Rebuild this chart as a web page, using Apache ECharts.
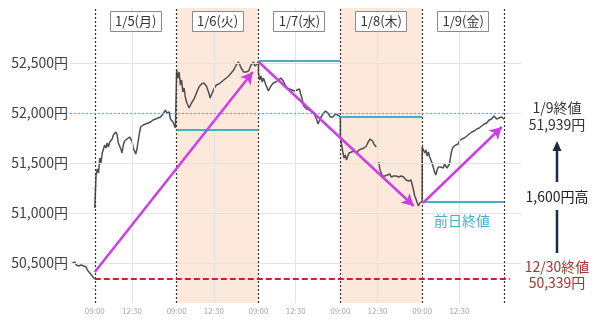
<!DOCTYPE html>
<html><head><meta charset="utf-8">
<script src="https://cdn.jsdelivr.net/npm/echarts@6/dist/echarts.min.js"></script>
<style>html,body{margin:0;padding:0;background:#fff}#c{width:600px;height:324px}</style>
</head><body><div id="c"></div>
<script>
// ---- data ----
const dayLabels = ['1/5(月)', '1/6(火)', '1/7(水)', '1/8(木)', '1/9(金)'];
const sessionTickMinutes = [0, 150];          // minutes after 09:00 in trading time
const sessionTickLabels = ['09:00', '12:30'];
const yTickValues = [50500, 51000, 51500, 52000, 52500];
const yMinorValues = [50250, 50750, 51250, 51750, 52250, 52750];

// tail of 12/30 session (5-minute steps), then close
const prevTail = [50500,50480,50510,50480,50490,50470,50490,50480,50490,50470,50450,50460,50430,50420,50400,50390,50370,50360];
const baseClose = 50339;   // 12/30 close
const lastClose = 51939;   // 1/9 close

// 5-minute samples of each session (09:00-11:30, 12:30-15:30 → 330 trading minutes)
const day5 = [51050,51380,51440,51400,51550,51500,51600,51620,51680,51650,51700,51660,51710,51690,51740,51780,51760,51810,51780,51700,51680,51640,51600,51680,51720,51700,51740,51720,51760,51740,51720,51650,51630,51590,51640,51720,51800,51860,51850,51880,51860,51890,51880,51900,51880,51910,51900,51930,51910,51940,51920,51950,51940,51960,51950,51990,52010,52030,52000,51980,52010,51940,51930,51910,51880,51850,51832];
const day6 = [52430,52350,52410,52280,52330,52210,52250,52160,52110,52080,52050,52070,52100,52090,52140,52170,52200,52230,52260,52280,52290,52310,52300,52290,52270,52250,52200,52150,52170,52210,52240,52260,52280,52270,52290,52280,52310,52300,52330,52320,52350,52340,52370,52380,52400,52410,52430,52450,52480,52500,52510,52480,52450,52430,52410,52400,52410,52400,52420,52450,52480,52500,52510,52470,52460,52490,52518];
const day7 = [52400,52330,52370,52310,52350,52330,52280,52250,52220,52240,52270,52290,52300,52280,52310,52300,52330,52320,52350,52360,52320,52290,52270,52250,52260,52240,52250,52230,52240,52220,52210,52230,52220,52240,52190,52150,52090,52060,52070,52040,52050,52030,52040,52010,52020,51990,51970,51930,51890,51900,51950,51970,51990,52000,52020,52030,52000,51980,51960,51950,51960,51980,51990,51970,51980,51970,51962];
const day8 = [51780,51680,51610,51550,51580,51530,51570,51600,51580,51610,51590,51620,51630,51600,51610,51630,51620,51640,51630,51650,51640,51670,51700,51690,51740,51760,51720,51690,51710,51660,null,51510,51430,51400,51370,51390,51370,51360,51380,51370,51390,51360,51350,51370,51360,51370,51350,51360,51350,51370,51380,51360,51340,51330,51340,51320,51310,51330,51320,51230,51170,51140,51100,51070,51100,51120,51117];
const day9 = [51660,51680,51600,51630,51570,51610,51560,51530,51500,51480,51410,51380,51430,51460,51480,51460,51470,51450,51490,51480,51450,51430,51490,51570,51630,51660,51650,51680,51700,51690,51720,51710,51740,51730,51750,51740,51770,51760,51790,51780,51810,51800,51820,51810,51840,51830,51850,51840,51870,51880,51890,51910,51900,51920,51930,51920,51940,51950,51970,51980,51940,51920,51950,51930,51960,51940,51939];

const prevDayCloses = [51832, 52518, 51962, 51117]; // shown on 1/6 .. 1/9
const refLevel = 52000;
const shadedDays = [1, 3];
// trend arrows: [startMinute, startValue, endMinute, endValue]
const trendArrows = [[0, 50410, 637, 52410], [661, 52510, 1286, 51070], [1323, 51100, 1641, 51860]];

// ---- build ----
const FONT = '"Noto Sans CJK JP","Noto Sans",sans-serif';
const DAY = 330, STEP = 5, XMIN = -100, XMAX = 1720, YMIN = 50100, YMAX = 53050;
const days = [day5, day6, day7, day8, day9];

const priceData = [];
prevTail.forEach((v, i) => priceData.push([-90 + i * STEP, v]));
priceData.push([-1, baseClose]);
priceData.push([-0.5, '-']);
days.forEach((arr, d) => arr.forEach((v, i) => priceData.push([d * DAY + i * STEP, v === null ? '-' : v])));

const xLabelValues = [];
for (let d = 0; d < days.length; d++) sessionTickMinutes.forEach(m => xLabelValues.push(d * DAY + m));

const seg = (x1, y1, x2, y2, ls) => { const s = [{ coord: [x1, y1] }, { coord: [x2, y2] }]; if (ls) s[0].lineStyle = ls; return s; };
const fmt = v => v.toLocaleString('en-US');

const chart = echarts.init(document.getElementById('c'), null, { renderer: 'canvas' });
chart.setOption({
  animation: false,
  backgroundColor: '#fff',
  textStyle: { fontFamily: FONT },
  grid: { left: 70, right: 78.6, top: 8, bottom: 21 },
  xAxis: {
    type: 'value', min: XMIN, max: XMAX,
    axisLine: { show: false }, axisTick: { show: false }, splitLine: { show: false },
    axisLabel: {
      customValues: xLabelValues,
      formatter: v => sessionTickLabels[sessionTickMinutes.indexOf(((v % DAY) + DAY) % DAY)],
      fontSize: 8, color: '#a6a6a6', margin: 4, fontFamily: FONT
    }
  },
  yAxis: {
    type: 'value', min: YMIN, max: YMAX,
    axisLine: { show: false }, splitLine: { show: false },
    axisTick: { show: true, customValues: yMinorValues, length: 3, lineStyle: { color: '#d5d5d5' } },
    axisLabel: { customValues: yTickValues, formatter: v => fmt(v) + '円', fontSize: 14, color: '#404040', margin: 2, fontFamily: FONT }
  },
  series: [
    { // background: shading + light grid
      type: 'line', data: [], z: 1, silent: true,
      markArea: { silent: true, itemStyle: { color: '#fde8dc' },
        data: shadedDays.map(d => [{ xAxis: d * DAY }, { xAxis: (d + 1) * DAY }]) },
      markLine: { silent: true, symbol: ['none', 'none'], label: { show: false },
        lineStyle: { color: '#e3e3e3', width: 1, type: 'solid' },
        data: yTickValues.filter(v => v !== refLevel).map(v => seg(XMIN, v, XMAX, v))
          .concat([seg(1661, refLevel, XMAX, refLevel)])
          .concat(days.map((_, d) => seg(d * DAY + 150, YMIN, d * DAY + 150, YMAX))) }
    },
    { // reference lines
      type: 'line', data: [], z: 2, silent: true,
      markLine: { silent: true, symbol: ['none', 'none'], label: { show: false },
        lineStyle: { color: '#333', width: 1.2, type: [2, 2] },
        data: [
          ...[0, 1, 2, 3, 4, 5].map(d => seg(d * DAY, YMIN, d * DAY, YMAX, { color: '#333', width: 1.2, type: [2, 2] })),
          seg(XMIN, refLevel, 1661, refLevel, { color: '#e8883a', width: 1.2, type: [2, 2], opacity: 1 }),
          seg(0, baseClose, 1673, baseClose, { color: '#c0262b', width: 2, type: [6, 3] }),
          ...prevDayCloses.map((v, i) => seg((i + 1) * DAY, v, (i + 2) * DAY, v, { color: '#4bacc6', width: 2, type: 'solid' }))
        ] }
    },
    { // price
      type: 'line', z: 3, data: priceData, showSymbol: false, connectNulls: false,
      lineStyle: { color: '#505050', width: 1.5 }, silent: true
    },
    { // arrows
      type: 'line', data: [], z: 4, silent: true,
      markLine: { silent: true, symbol: ['none', 'arrow'], symbolSize: [10, 12], label: { show: false },
        lineStyle: { color: '#cc3fe6', width: 2.5, type: 'solid', opacity: 1 },
        data: trendArrows.map(a => seg(a[0], a[1], a[2], a[3])) }
    }
  ]
});

// annotations
const px = (x, y) => chart.convertToPixel({ gridIndex: 0 }, [x, y]);
const g = [];
dayLabels.forEach((t, d) => {
  const cx = px(d * DAY + DAY / 2, YMAX)[0];
  g.push({ type: 'rect', shape: { x: Math.round(cx - 26) + 0.5, y: 11.5, width: 51, height: 20 },
    style: { fill: '#fff', stroke: '#8a8a8a', lineWidth: 1 }, z: 10 });
  g.push({ type: 'text', x: cx, y: 21.5, style: { text: t, fill: '#333', font: '13px ' + FONT, align: 'center', verticalAlign: 'middle' }, z: 11 });
});
const tealPos = px(4 * DAY + 165, prevDayCloses[3]);
g.push({ type: 'text', x: tealPos[0] - 1, y: tealPos[1] + 19, style: { text: '前日終値', fill: '#4aaec4', font: '14px ' + FONT, align: 'center', verticalAlign: 'middle' }, z: 11 });
const ax = 557;
const navy = '#1b2a48', dred = '#a8322f';
g.push({ type: 'text', x: ax, y: 108, style: { text: '1/9終値', fill: '#333', font: '14px ' + FONT, align: 'center', verticalAlign: 'middle' } });
g.push({ type: 'text', x: ax, y: 125, style: { text: fmt(lastClose) + '円', fill: '#333', font: '14px ' + FONT, align: 'center', verticalAlign: 'middle' } });
g.push({ type: 'line', shape: { x1: ax, y1: 150, x2: ax, y2: 182 }, style: { stroke: navy, lineWidth: 2.5 } });
g.push({ type: 'polygon', shape: { points: [[ax, 141], [ax - 4.5, 151], [ax + 4.5, 151]] }, style: { fill: navy } });
g.push({ type: 'text', x: ax, y: 197, style: { text: fmt(lastClose - baseClose) + '円高', fill: '#222', font: '14px ' + FONT, align: 'center', verticalAlign: 'middle' } });
g.push({ type: 'line', shape: { x1: ax, y1: 210, x2: ax, y2: 253 }, style: { stroke: navy, lineWidth: 2.5 } });
g.push({ type: 'text', x: ax, y: 267, style: { text: '12/30終値', fill: dred, font: '14px ' + FONT, align: 'center', verticalAlign: 'middle' } });
g.push({ type: 'text', x: ax, y: 283, style: { text: fmt(baseClose) + '円', fill: dred, font: '14px ' + FONT, align: 'center', verticalAlign: 'middle' } });
chart.setOption({ graphic: g });
</script></body></html>
